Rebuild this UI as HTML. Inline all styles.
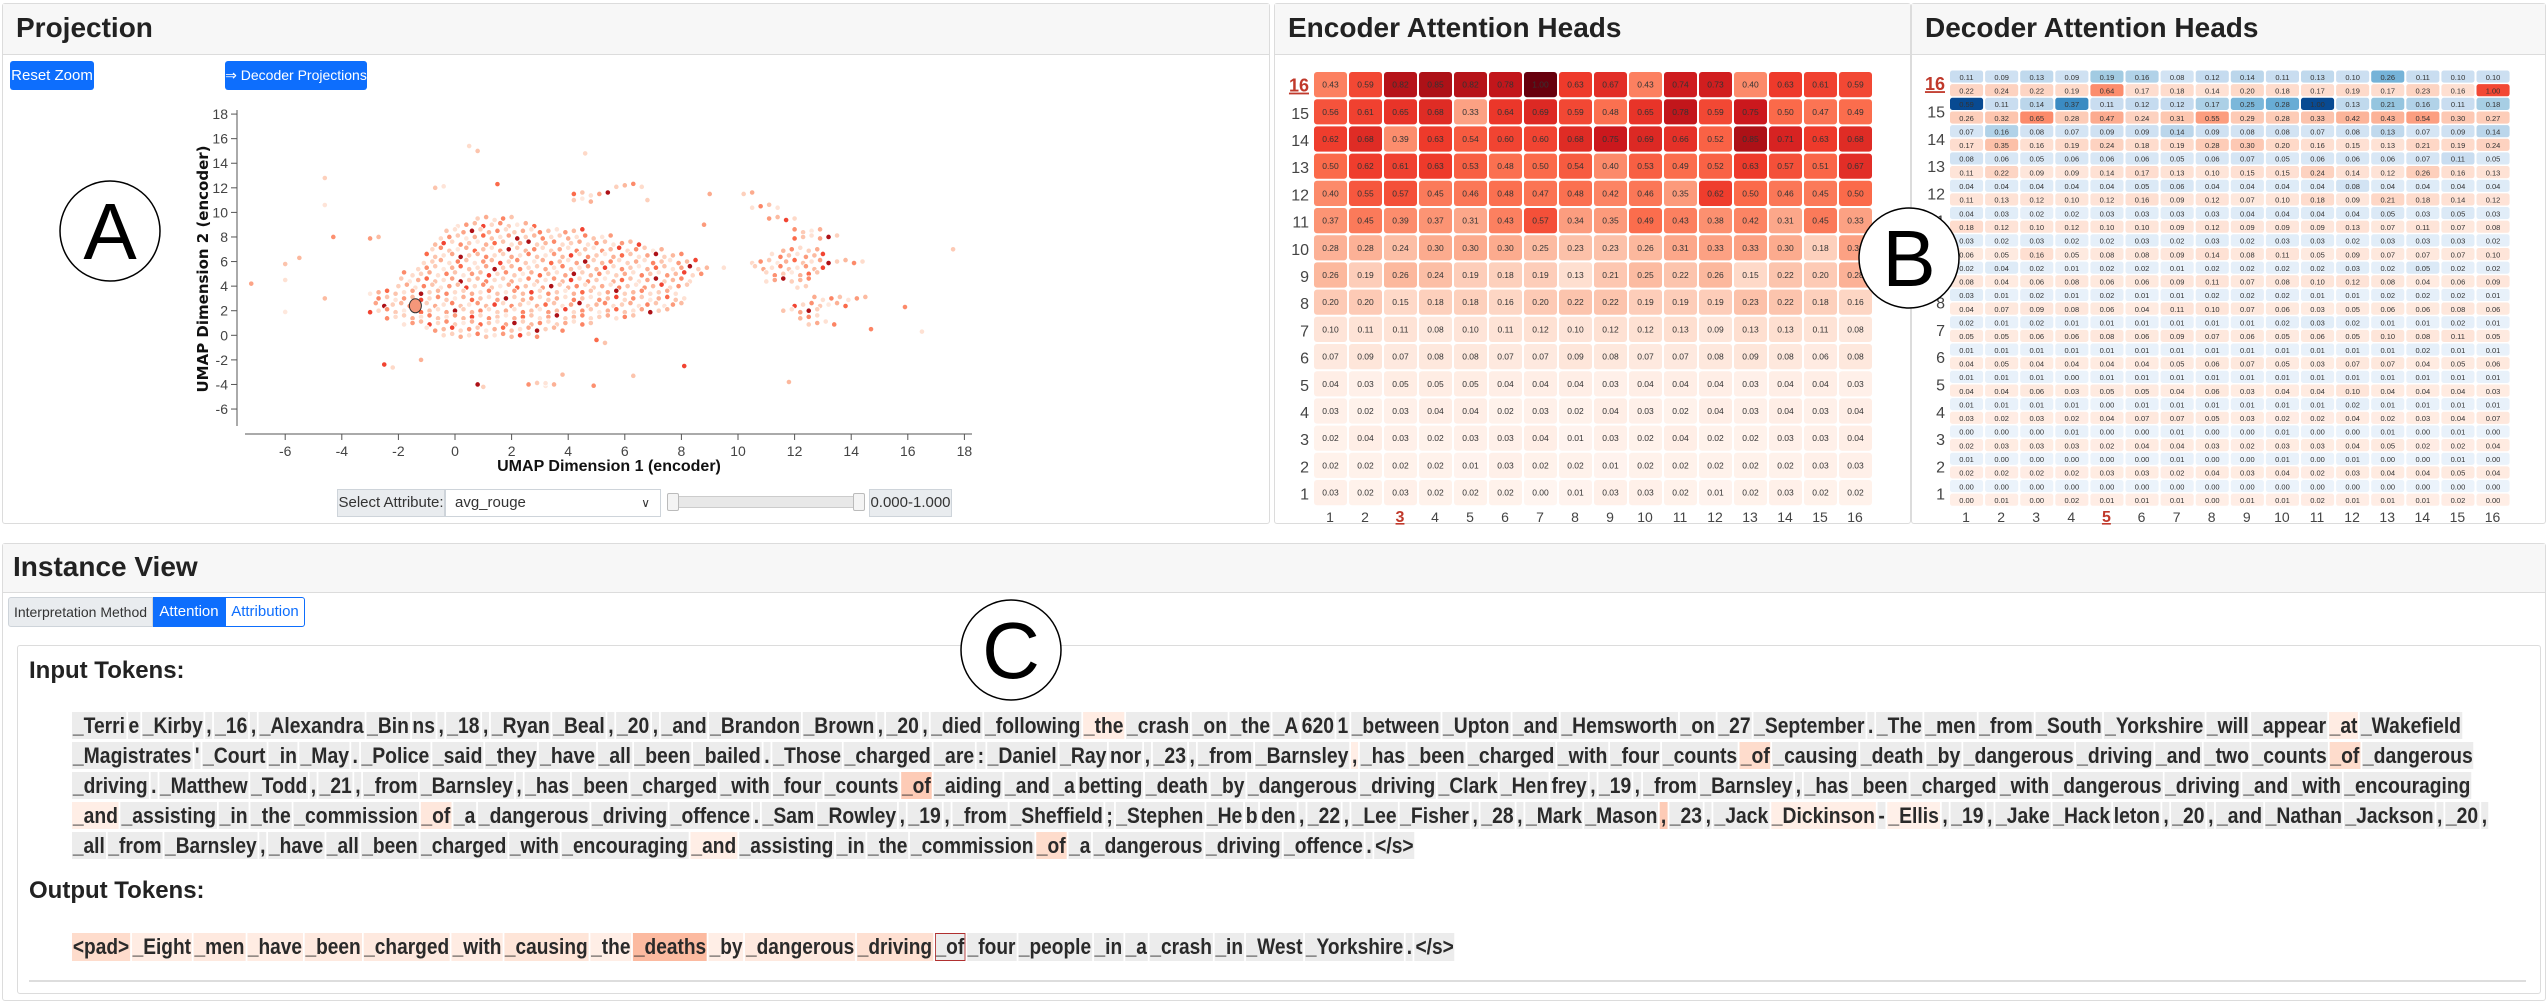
<!DOCTYPE html>
<html><head><meta charset="utf-8">
<style>
body{margin:0;width:2548px;height:1003px;background:#fff;position:relative;overflow:hidden;font-family:"Liberation Sans",sans-serif;color:#222}
.panel{position:absolute;border:1px solid #dcdcdc;border-radius:3px;background:#fff;box-sizing:border-box}
.phead{position:absolute;left:0;right:0;top:0;height:50px;background:#f7f7f7;border-bottom:1px solid #dcdcdc}
.ptitle{position:absolute;left:13px;top:8px;font-size:28px;font-weight:bold;color:#222}
.btn{position:absolute;background:#0d6efd;color:#fff;border-radius:3px;font-family:"Liberation Sans Narrow","Liberation Sans",sans-serif;font-size:15px;display:flex;align-items:center;justify-content:center;white-space:nowrap}
.tokline{position:absolute;left:72px;height:27px;white-space:nowrap;transform-origin:0 0;font-family:"Liberation Sans Narrow","Liberation Sans",sans-serif;font-weight:bold;font-size:22px;line-height:27px;color:#2a2a2a}
.tok{display:inline-block;background:#ececec;margin-right:2px;padding:0 1px;height:27px;box-sizing:border-box}
</style></head><body>

<div class="panel" style="left:2px;top:3px;width:1268px;height:521px">
  <div class="phead"><div class="ptitle">Projection</div></div>
</div>
<div class="btn" style="left:10px;top:61px;width:84px;height:29px">Reset Zoom</div>
<div class="btn" style="left:225px;top:61px;width:142px;height:29px;font-size:14px">⇒ Decoder Projections</div>

<div style="position:absolute;left:337px;top:489px;width:108px;height:28px;background:#e9ecef;border:1px solid #ced4da;box-sizing:border-box;font-family:'Liberation Sans Narrow',sans-serif;font-size:15px;line-height:26px;text-align:center;color:#333">Select Attribute:</div>
<div style="position:absolute;left:445px;top:489px;width:216px;height:28px;border:1px solid #ced4da;box-sizing:border-box;font-family:'Liberation Sans Narrow',sans-serif;font-size:15px;line-height:26px;padding-left:9px;color:#333">avg_rouge<span style="position:absolute;right:10px;top:0;font-size:12px">∨</span></div>
<div style="position:absolute;left:667px;top:496px;width:197px;height:12px;background:#e8e8e8;border:1px solid #ccc;box-sizing:border-box;border-radius:2px"></div>
<div style="position:absolute;left:667px;top:493px;width:10px;height:16px;background:#f4f4f4;border:1px solid #bbb;border-radius:2px"></div>
<div style="position:absolute;left:853px;top:493px;width:10px;height:16px;background:#f4f4f4;border:1px solid #bbb;border-radius:2px"></div>
<div style="position:absolute;left:869px;top:489px;width:83px;height:28px;background:#e9ecef;border:1px solid #ced4da;box-sizing:border-box;font-family:'Liberation Sans Narrow',sans-serif;font-size:15px;line-height:26px;text-align:center;color:#333">0.000-1.000</div>

<div class="panel" style="left:1274px;top:3px;width:637px;height:521px">
  <div class="phead"><div class="ptitle">Encoder Attention Heads</div></div>
</div>
<div class="panel" style="left:1911px;top:3px;width:635px;height:521px">
  <div class="phead"><div class="ptitle">Decoder Attention Heads</div></div>
</div>

<div class="panel" style="left:2px;top:543px;width:2544px;height:458px">
  <div class="phead" style="height:48px"><div class="ptitle" style="left:10px;top:7px">Instance View</div></div>
</div>
<div style="position:absolute;left:8px;top:597px;width:145px;height:30px;background:#e9ecef;border:1px solid #ced4da;box-sizing:border-box;font-family:'Liberation Sans Narrow',sans-serif;font-size:14px;line-height:28px;text-align:center;color:#333;border-radius:3px 0 0 3px">Interpretation Method</div>
<div style="position:absolute;left:153px;top:597px;width:72px;height:30px;background:#0d6efd;box-sizing:border-box;font-family:'Liberation Sans Narrow',sans-serif;font-size:15px;line-height:30px;text-align:center;color:#fff">Attention</div>
<div style="position:absolute;left:225px;top:597px;width:80px;height:30px;border:1px solid #0d6efd;box-sizing:border-box;font-family:'Liberation Sans Narrow',sans-serif;font-size:15px;line-height:28px;text-align:center;color:#0d6efd;border-radius:0 3px 3px 0">Attribution</div>

<div style="position:absolute;left:17px;top:645px;width:2524px;height:349px;border:1px solid #dcdcdc;box-sizing:border-box;border-radius:3px"></div>
<div style="position:absolute;left:29px;top:657px;font-size:24px;font-weight:bold;color:#222">Input Tokens:</div>
<div style="position:absolute;left:29px;top:877px;font-size:24px;font-weight:bold;color:#222">Output Tokens:</div>
<div style="position:absolute;left:29px;top:980px;width:2497px;height:2px;background:#ddd"></div>
<div id="tokens"></div>

<svg id="chart" width="2548" height="1003" style="position:absolute;left:0;top:0" xmlns="http://www.w3.org/2000/svg"></svg>

<script>
// ---------- scatter data (UMAP) ----------
const scatterSpans = [
 [9.5,0.8,2.2],[9,0,3],[8.5,-0.5,4.5],[8,-0.5,5.5],[7.5,-0.8,6.5],[7,-1,7.5],[6.5,-1,8.2],[6,-1.2,8.5],[5.5,-1.5,9],[5,-1.8,8.8],[4.5,-2,8.5],[4,-2.2,8.3],[3.5,-3,8],[3,-2.8,8.2],[2.5,-3,8],[2,-3,7.5],[1.5,-2.5,6.5],[1,-2,5],[0.5,-1,4],[0,-0.5,3],
 [11,4,5],[11.5,4.2,5.5],[12.2,5.6,6.6],
 [11.5,10,10.5],[10.5,10.5,11.5],[9.5,11,12],[8.5,11.8,13],[8,12,13.5],[7,11.5,12.8],[6.5,11,13],[6,10.5,14.5],[5.5,10.5,13],[5,10.8,12.8],[4.5,11,12.5],[4,12,12.5],
 [3,12.5,14.5],[2.5,12,14],[2,11.5,13],[1.5,12,13],[1,12.5,13.5],
 [12,-0.8,-0.3],[8,-3.2,-2.5],[-2.5,-2.5,-2],[-4,2.5,3.5],[-0.5,4.8,5.5]
];
const scatterSingles = [[-4.6,12.8],[-4.6,10.6],[-4.3,8],[-6,5.8],[-5.5,6.3],[-6,4.5],[-4.6,3],[-6,1.9],[-7.2,4.2],[0.5,15.4],[0.8,15],[4.6,14.8],[1.5,12.3],[6.8,11],[9,11.5],[8.8,9],[17.6,7],[16.5,0.3],[15.9,2.3],[14.7,0.5],[8.1,-2.5],[-1.2,-2],[0.8,-4],[1,-4.2],[3.2,-3.9],[4.9,-4.1],[6.3,-3.3],[11.8,-3.8],[9.5,5.5],[3.8,-3.2]];
const scatterLevels = [0.18,0.3,0.12,0.42,0.22,0.1,0.35,0.25,0.6,0.15,0.38,0.2,0.08,0.28,0.5,0.22,0.12,0.32,0.85,0.18,0.26,0.4,0.14];
const selectedPoint = [-1.4,2.4];
const xTicks = [-6,-4,-2,0,2,4,6,8,10,12,14,16,18];
const yTicks = [-6,-4,-2,0,2,4,6,8,10,12,14,16,18];

// ---------- encoder heatmap (rows layer 16 -> 1) ----------
const layers = [16,15,14,13,12,11,10,9,8,7,6,5,4,3,2,1];
const heads = [1,2,3,4,5,6,7,8,9,10,11,12,13,14,15,16];
const encL16=[0.43,0.59,0.82,0.85,0.82,0.78,1.00,0.63,0.67,0.43,0.74,0.73,0.40,0.63,0.61,0.59];
const encL15=[0.56,0.61,0.65,0.68,0.33,0.64,0.69,0.59,0.48,0.65,0.78,0.59,0.75,0.50,0.47,0.49];
const encL14=[0.62,0.68,0.39,0.63,0.54,0.60,0.60,0.68,0.75,0.69,0.66,0.52,0.85,0.71,0.63,0.68];
const encL13=[0.50,0.62,0.61,0.63,0.53,0.48,0.50,0.54,0.40,0.53,0.49,0.52,0.63,0.57,0.51,0.67];
const encL12=[0.40,0.55,0.57,0.45,0.46,0.48,0.47,0.48,0.42,0.46,0.35,0.62,0.50,0.46,0.45,0.50];
const encL11=[0.37,0.45,0.39,0.37,0.31,0.43,0.57,0.34,0.35,0.49,0.43,0.38,0.42,0.31,0.45,0.33];
const encL10=[0.28,0.28,0.24,0.30,0.30,0.30,0.25,0.23,0.23,0.26,0.31,0.33,0.33,0.30,0.18,0.33];
const encL9=[0.26,0.19,0.26,0.24,0.19,0.18,0.19,0.13,0.21,0.25,0.22,0.26,0.15,0.22,0.20,0.28];
const encL8=[0.20,0.20,0.15,0.18,0.18,0.16,0.20,0.22,0.22,0.19,0.19,0.19,0.23,0.22,0.18,0.16];
const encL7=[0.10,0.11,0.11,0.08,0.10,0.11,0.12,0.10,0.12,0.12,0.13,0.09,0.13,0.13,0.11,0.08];
const encL6=[0.07,0.09,0.07,0.08,0.08,0.07,0.07,0.09,0.08,0.07,0.07,0.08,0.09,0.08,0.06,0.08];
const encL5=[0.04,0.03,0.05,0.05,0.05,0.04,0.04,0.04,0.03,0.04,0.04,0.04,0.03,0.04,0.04,0.03];
const encL4=[0.03,0.02,0.03,0.04,0.04,0.02,0.03,0.02,0.04,0.03,0.02,0.04,0.03,0.04,0.03,0.04];
const encL3=[0.02,0.04,0.03,0.02,0.03,0.03,0.04,0.01,0.03,0.02,0.04,0.02,0.02,0.03,0.03,0.04];
const encL2=[0.02,0.02,0.02,0.02,0.01,0.03,0.02,0.02,0.01,0.02,0.02,0.02,0.02,0.02,0.03,0.03];
const encL1=[0.03,0.02,0.03,0.02,0.02,0.02,0.00,0.01,0.03,0.03,0.02,0.01,0.02,0.03,0.02,0.02];
const encRows=[encL16,encL15,encL14,encL13,encL12,encL11,encL10,encL9,encL8,encL7,encL6,encL5,encL4,encL3,encL2,encL1];

// ---------- decoder heatmap (blue = self, red = cross) ----------
const decB16=[0.11,0.09,0.13,0.09,0.19,0.16,0.08,0.12,0.14,0.11,0.13,0.10,0.26,0.11,0.10,0.10];
const decR16=[0.22,0.24,0.22,0.19,0.64,0.17,0.18,0.14,0.20,0.18,0.17,0.19,0.17,0.23,0.16,1.00];
const decB15=[0.59,0.11,0.14,0.37,0.11,0.12,0.12,0.17,0.25,0.28,1.00,0.13,0.21,0.16,0.11,0.18];
const decR15=[0.26,0.32,0.65,0.28,0.47,0.24,0.31,0.55,0.29,0.28,0.33,0.42,0.43,0.54,0.30,0.27];
const decB14=[0.07,0.16,0.08,0.07,0.09,0.09,0.14,0.09,0.08,0.08,0.07,0.08,0.13,0.07,0.09,0.14];
const decR14=[0.17,0.35,0.16,0.19,0.24,0.18,0.19,0.28,0.30,0.20,0.16,0.15,0.13,0.21,0.19,0.24];
const decB13=[0.08,0.06,0.05,0.06,0.06,0.06,0.05,0.06,0.07,0.05,0.06,0.06,0.06,0.07,0.11,0.05];
const decR13=[0.11,0.22,0.09,0.09,0.14,0.17,0.13,0.10,0.15,0.15,0.24,0.14,0.12,0.26,0.16,0.13];
const decB12=[0.04,0.04,0.04,0.04,0.04,0.05,0.06,0.04,0.04,0.04,0.04,0.08,0.04,0.04,0.04,0.04];
const decR12=[0.11,0.13,0.12,0.10,0.12,0.16,0.09,0.12,0.07,0.10,0.18,0.09,0.21,0.18,0.14,0.12];
const decB11=[0.04,0.03,0.02,0.02,0.03,0.03,0.03,0.03,0.04,0.04,0.04,0.04,0.05,0.03,0.05,0.03];
const decR11=[0.18,0.12,0.10,0.12,0.10,0.10,0.09,0.12,0.09,0.09,0.09,0.13,0.07,0.11,0.07,0.08];
const decB10=[0.03,0.02,0.03,0.02,0.02,0.03,0.02,0.03,0.02,0.03,0.03,0.02,0.03,0.03,0.03,0.02];
const decR10=[0.06,0.05,0.16,0.05,0.08,0.08,0.09,0.14,0.08,0.11,0.05,0.09,0.07,0.07,0.07,0.10];
const decB9=[0.02,0.04,0.02,0.01,0.02,0.02,0.01,0.02,0.02,0.02,0.02,0.03,0.02,0.05,0.02,0.02];
const decR9=[0.08,0.04,0.06,0.08,0.06,0.06,0.09,0.11,0.07,0.08,0.10,0.12,0.08,0.04,0.06,0.09];
const decB8=[0.03,0.01,0.02,0.01,0.02,0.01,0.01,0.02,0.02,0.02,0.01,0.01,0.02,0.02,0.02,0.01];
const decR8=[0.04,0.07,0.09,0.08,0.06,0.04,0.11,0.10,0.07,0.06,0.03,0.05,0.06,0.06,0.08,0.06];
const decB7=[0.02,0.01,0.02,0.01,0.01,0.01,0.01,0.01,0.01,0.02,0.03,0.02,0.01,0.01,0.02,0.01];
const decR7=[0.05,0.05,0.06,0.06,0.08,0.06,0.09,0.07,0.06,0.05,0.06,0.05,0.10,0.08,0.11,0.05];
const decB6=[0.01,0.01,0.01,0.01,0.01,0.01,0.01,0.01,0.01,0.01,0.01,0.01,0.01,0.02,0.01,0.01];
const decR6=[0.04,0.05,0.04,0.04,0.04,0.04,0.05,0.06,0.07,0.05,0.03,0.07,0.07,0.04,0.05,0.06];
const decB5=[0.01,0.01,0.01,0.00,0.01,0.01,0.01,0.01,0.01,0.01,0.01,0.01,0.01,0.01,0.01,0.01];
const decR5=[0.04,0.04,0.06,0.03,0.05,0.05,0.04,0.06,0.03,0.04,0.04,0.10,0.04,0.04,0.04,0.03];
const decB4=[0.01,0.01,0.01,0.01,0.00,0.01,0.01,0.01,0.01,0.01,0.01,0.02,0.01,0.01,0.01,0.01];
const decR4=[0.03,0.02,0.03,0.02,0.04,0.07,0.07,0.05,0.03,0.02,0.02,0.04,0.02,0.03,0.04,0.07];
const decB3=[0.00,0.00,0.00,0.01,0.00,0.00,0.01,0.00,0.00,0.01,0.00,0.00,0.01,0.00,0.01,0.00];
const decR3=[0.02,0.03,0.03,0.03,0.02,0.04,0.04,0.03,0.02,0.03,0.03,0.04,0.05,0.02,0.02,0.04];
const decB2=[0.01,0.00,0.00,0.00,0.00,0.00,0.01,0.00,0.00,0.01,0.00,0.01,0.00,0.00,0.01,0.00];
const decR2=[0.02,0.02,0.02,0.02,0.03,0.03,0.02,0.04,0.03,0.04,0.02,0.03,0.04,0.04,0.05,0.04];
const decB1=[0.00,0.00,0.00,0.00,0.00,0.00,0.00,0.00,0.00,0.00,0.00,0.00,0.00,0.00,0.00,0.00];
const decR1=[0.00,0.01,0.00,0.02,0.01,0.01,0.01,0.00,0.01,0.01,0.02,0.01,0.01,0.01,0.02,0.00];
const decBlue=[decB16,decB15,decB14,decB13,decB12,decB11,decB10,decB9,decB8,decB7,decB6,decB5,decB4,decB3,decB2,decB1];
const decRed=[decR16,decR15,decR14,decR13,decR12,decR11,decR10,decR9,decR8,decR7,decR6,decR5,decR4,decR3,decR2,decR1];

// ---------- tokens ----------
const inputLines = [
 "_Terri|e|_Kirby|,|_16|,|_Alexandra|_Bin|ns|,|_18|,|_Ryan|_Beal|,|_20|,|_and|_Brandon|_Brown|,|_20|,|_died|_following|_the|_crash|_on|_the|_A|620|1|_between|_Upton|_and|_Hemsworth|_on|_27|_September|.|_The|_men|_from|_South|_Yorkshire|_will|_appear|_at|_Wakefield",
 "_Magistrates|'|_Court|_in|_May|.|_Police|_said|_they|_have|_all|_been|_bailed|.|_Those|_charged|_are|:|_Daniel|_Ray|nor|,|_23|,|_from|_Barnsley|,|_has|_been|_charged|_with|_four|_counts|_of|_causing|_death|_by|_dangerous|_driving|_and|_two|_counts|_of|_dangerous",
 "_driving|.|_Matthew|_Todd|,|_21|,|_from|_Barnsley|,|_has|_been|_charged|_with|_four|_counts|_of|_aiding|_and|_a|betting|_death|_by|_dangerous|_driving|_Clark|_Hen|frey|,|_19|,|_from|_Barnsley|,|_has|_been|_charged|_with|_dangerous|_driving|_and|_with|_encouraging",
 "_and|_assisting|_in|_the|_commission|_of|_a|_dangerous|_driving|_offence|.|_Sam|_Rowley|,|_19|,|_from|_Sheffield|;|_Stephen|_He|b|den|,|_22|,|_Lee|_Fisher|,|_28|,|_Mark|_Mason|,|_23|,|_Jack|_Dickinson|-|_Ellis|,|_19|,|_Jake|_Hack|leton|,|_20|,|_and|_Nathan|_Jackson|,|_20|,",
 "_all|_from|_Barnsley|,|_have|_all|_been|_charged|_with|_encouraging|_and|_assisting|_in|_the|_commission|_of|_a|_dangerous|_driving|_offence|.|</s>"
];
const inputAttn = [
 {25:0.04,47:0.04},
 {26:0.03,33:0.1,42:0.1},
 {16:0.14},
 {0:0.03,5:0.06,33:0.14,37:0.03,39:0.02},
 {10:0.03,15:0.1}
];
const outputTokens = "<pad>|_Eight|_men|_have|_been|_charged|_with|_causing|_the|_deaths|_by|_dangerous|_driving|_of|_four|_people|_in|_a|_crash|_in|_West|_Yorkshire|.|</s>".split("|");
const outputAttn = [0.1,0.04,0.05,0.04,0.05,0.05,0.04,0.07,0.03,0.18,0.03,0.05,0.09,0,0,0,0,0,0,0,0,0,0,0];
const lineTops = [712,742,772,802,832];
const lineWidths = [2392,2403,2401,2418,1344];

const NS="http://www.w3.org/2000/svg";
const svg=document.getElementById('chart');
function mk(tag,attrs,parent){const e=document.createElementNS(NS,tag);for(const k in attrs)e.setAttribute(k,attrs[k]);(parent||svg).appendChild(e);return e;}
function lerpHex(stops,t){t=Math.max(0,Math.min(1,t));const n=stops.length-1;const i=Math.min(n-1,Math.floor(t*n));const f=t*n-i;
 const a=stops[i],b=stops[i+1];const p=h=>[parseInt(h.substr(1,2),16),parseInt(h.substr(3,2),16),parseInt(h.substr(5,2),16)];
 const A=p(a),B=p(b);return 'rgb('+A.map((v,k)=>Math.round(v+(B[k]-v)*f)).join(',')+')';}
const REDS=['#fff5f0','#fee0d2','#fcbba1','#fc9272','#fb6a4a','#ef3b2c','#cb181d','#a50f15','#67000d'];
const BLUES=['#f7fbff','#deebf7','#c6dbef','#9ecae1','#6baed6','#4292c6','#2171b5','#08519c','#08306b'];

// ---------- scatter ----------
const sx=v=>455+v*28.3, sy=v=>335.3-v*12.29;
mk('line',{x1:237,y1:110,x2:237,y2:426,stroke:'#555','stroke-width':1});
mk('line',{x1:245,y1:434,x2:972,y2:434,stroke:'#555','stroke-width':1});
yTicks.forEach(t=>{mk('line',{x1:231,x2:237,y1:sy(t),y2:sy(t),stroke:'#555'});
 const tx=mk('text',{x:228,y:sy(t)+5,'text-anchor':'end','font-size':14,'font-family':'Liberation Sans Narrow, Liberation Sans, sans-serif',fill:'#444'});tx.textContent=t;
 });
xTicks.forEach(t=>{mk('line',{x1:sx(t),x2:sx(t),y1:434,y2:440,stroke:'#555'});
 const tx=mk('text',{x:sx(t),y:456,'text-anchor':'middle','font-size':14,'font-family':'Liberation Sans Narrow, Liberation Sans, sans-serif',fill:'#444'});tx.textContent=t;
 });
let xt=mk('text',{x:609,y:471,'text-anchor':'middle','font-size':16,'font-weight':'bold','font-family':'Liberation Sans Narrow, Liberation Sans, sans-serif',fill:'#111'});xt.textContent='UMAP Dimension 1 (encoder)';

let yt=mk('text',{x:0,y:0,transform:'translate(208,269) rotate(-90)','text-anchor':'middle','font-size':15,'font-weight':'bold','font-family':'DejaVu Sans, sans-serif',fill:'#111'});yt.textContent='UMAP Dimension 2 (encoder)';

const dots=mk('g',{});

let k=0;
scatterSpans.forEach((s,ri)=>{const off=(ri%3)*0.1;for(let x=s[1]+off;x<=s[2]+0.001;x+=0.3){
 const v=scatterLevels[k%scatterLevels.length];k++;
 mk('circle',{cx:sx(x),cy:sy(s[0]+((k%3)-1)*0.12),r:2.7,fill:lerpHex(REDS,v),stroke:'#fff','stroke-width':0.8},dots);}});
scatterSingles.forEach((p,i)=>{const v=scatterLevels[(i*5)%scatterLevels.length];
 mk('circle',{cx:sx(p[0]),cy:sy(p[1]),r:2.7,fill:lerpHex(REDS,v),stroke:'#fff','stroke-width':0.8},dots);});
const sel=mk('ellipse',{cx:sx(selectedPoint[0]),cy:sy(selectedPoint[1]),rx:6,ry:7,fill:'#f4977a',stroke:'#333','stroke-width':1});


// ---------- encoder heatmap ----------
const ex0=1314, ey0=72, ecw=35, ech=27.2;
encRows.forEach((row,ri)=>{row.forEach((v,ci)=>{
 const r=mk('rect',{x:ex0+ci*ecw,y:ey0+ri*ech,width:ecw-2,height:ech-2,rx:3,fill:lerpHex(REDS,v)});
 
 const t=mk('text',{x:ex0+ci*ecw+(ecw-2)/2,y:ey0+ri*ech+ech/2+2,'text-anchor':'middle','font-size':8.5,fill:'#333'});t.textContent=v.toFixed(2);});
 const sel=layers[ri]===16;
 const l=mk('text',{x:1309,y:ey0+ri*ech+ech/2+6,'text-anchor':'end','font-size':sel?18:16,'font-weight':sel?'bold':'normal',fill:sel?'#c0392b':'#444','text-decoration':sel?'underline':'none'});l.textContent=layers[ri];
 });
heads.forEach((h,ci)=>{const sel=h===3;const t=mk('text',{x:ex0+ci*ecw+16,y:522,'text-anchor':'middle','font-size':sel?16:14,'font-weight':sel?'bold':'normal',fill:sel?'#c0392b':'#444','text-decoration':sel?'underline':'none'});t.textContent=h;
 });

// ---------- decoder heatmap ----------
const dx0=1950, dy0=70.5, dcw=35.1, dsh=13.65;
layers.forEach((L,li)=>{
 [decBlue[li],decRed[li]].forEach((row,si)=>{row.forEach((v,ci)=>{
  const col=si===0?lerpHex(BLUES,Math.min(0.9,0.06+v*1.6)):lerpHex(REDS,Math.min(0.9,0.04+v*0.55));
  const y=dy0+(li*2+si)*dsh;
  const r=mk('rect',{x:dx0+ci*dcw,y:y,width:dcw-2,height:dsh-1.5,rx:2.5,fill:col});
  
  const t=mk('text',{x:dx0+ci*dcw+(dcw-2)/2,y:y+dsh/2+2.5,'text-anchor':'middle','font-size':7.5,fill:'#333'});t.textContent=v.toFixed(2);});});
 const sel=L===16;
 const l=mk('text',{x:1945,y:dy0+li*2*dsh+dsh+6,'text-anchor':'end','font-size':sel?18:16,'font-weight':sel?'bold':'normal',fill:sel?'#c0392b':'#444','text-decoration':sel?'underline':'none'});l.textContent=L;
 });
heads.forEach((h,ci)=>{const sel=h===5;const t=mk('text',{x:dx0+ci*dcw+16,y:522,'text-anchor':'middle','font-size':sel?16:14,'font-weight':sel?'bold':'normal',fill:sel?'#c0392b':'#444','text-decoration':sel?'underline':'none'});t.textContent=h;
 });

// ---------- annotation circles ----------
[['A',110,231],['B',1909,258],['C',1011,650]].forEach(a=>{
 const g=mk('g',{});
 
 mk('circle',{cx:a[1],cy:a[2],r:50,fill:'#fff',stroke:'#000','stroke-width':1.5},g);
 const t=mk('text',{x:a[1],y:a[2]+28,'text-anchor':'middle','font-size':80,fill:'#000'},g);t.textContent=a[0];});

// ---------- tokens ----------
const host=document.getElementById('tokens');
function tokBg(v){return v>0?lerpHex(REDS,Math.min(0.9,v*1.4)):'#ececec';}
inputLines.forEach((line,li)=>{
 const d=document.createElement('div');d.className='tokline';d.style.top=lineTops[li]+'px';
 
 
 line.split('|').forEach((tk,ti)=>{const s=document.createElement('span');s.className='tok';s.textContent=tk;
  const v=inputAttn[li][ti]||0;s.style.background=tokBg(v);
  
  
  d.appendChild(s);});
 host.appendChild(d);
 const w=d.scrollWidth;d.style.transform='scaleX('+(lineWidths[li]/w)+')';});
(function(){const d=document.createElement('div');d.className='tokline';d.style.top='933px';d.style.height='28px';
 
 
 outputTokens.forEach((tk,ti)=>{const s=document.createElement('span');s.className='tok';s.textContent=tk;s.style.height='28px';
  s.style.background=tokBg(outputAttn[ti]);
  if(tk==='_of'){s.style.outline='1.5px solid #b03030';s.style.outlineOffset='-1.5px';}
  
  
  d.appendChild(s);});
 host.appendChild(d);const w=d.scrollWidth;d.style.transform='scaleX('+(1384/w)+')';})();
</script>
</body></html>
